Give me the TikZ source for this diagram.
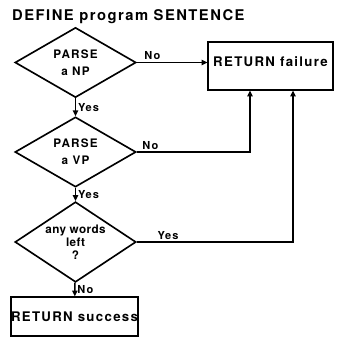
\documentclass[tikz,border=0pt]{standalone}
\usepackage{fontspec}
\setmainfont{TeX Gyre Heros}[LetterSpace=10]
\usepackage{tikz}
\usetikzlibrary{arrows.meta,shapes.geometric}

\begin{document}
\begin{tikzpicture}[
      test/.style={draw, diamond, line width=1.4pt, inner sep=-3pt, minimum width=3.63cm, minimum height=2.1cm, align=center, font=\bfseries\fontsize{10}{11}\selectfont},
      box/.style={draw, line width=1pt, align=center, inner sep=0pt, minimum width=3.75cm, font=\bfseries\fontsize{11.3}{14}\selectfont},
      lab/.style={font=\bfseries\fontsize{9.4}{11}\selectfont, inner sep=1.5pt},
      arrow/.style={-{Triangle[length=5pt, width=4.5pt]}, line width=1.3pt}]
    \useasboundingbox (0, 0) rectangle (10.08, -10.14);
    \node[anchor=base west, inner sep=0pt, font=\bfseries\fontsize{12.6}{15}\selectfont] (title) at (0.36, -0.615) {DEFINE program SENTENCE};
    \node[test] (np) at (2.265, -1.875) {PARSE\\[3.5pt]a NP};
    \node[test] (vp) at (2.265, -4.56) {PARSE\\[3.5pt]a VP};
    \node[test] (left) at (2.265, -7.26) {\addfontfeature{LetterSpace=3}any words\\\addfontfeature{LetterSpace=3}left\\?};
    \node[box, minimum height=1.44cm, text height=8.1pt, text depth=6.8pt] (fail) at (8.115, -1.98) {RETURN failure};
    \node[box, minimum height=1.17cm] (succ) at (2.235, -9.495) {RETURN success};
    \draw[arrow] (np.east) -- node[lab, above, pos=0.22] {No} (np.east -| fail.west);
    \draw[arrow] (np) -- node[lab, right] {Yes} (vp);
    \draw[arrow] (vp.east) -| node[lab, above, pos=0.06] {No} ([xshift=-6.15mm]fail.south);
    \draw[arrow] (vp) -- node[lab, right] {Yes} (left);
    \draw[arrow] (left.east) -| node[lab, above, pos=0.1] {Yes} ([xshift=6.75mm]fail.south);
    \draw[arrow] (left) -- node[lab, right] {No} (succ);
  \end{tikzpicture}
\end{document}
